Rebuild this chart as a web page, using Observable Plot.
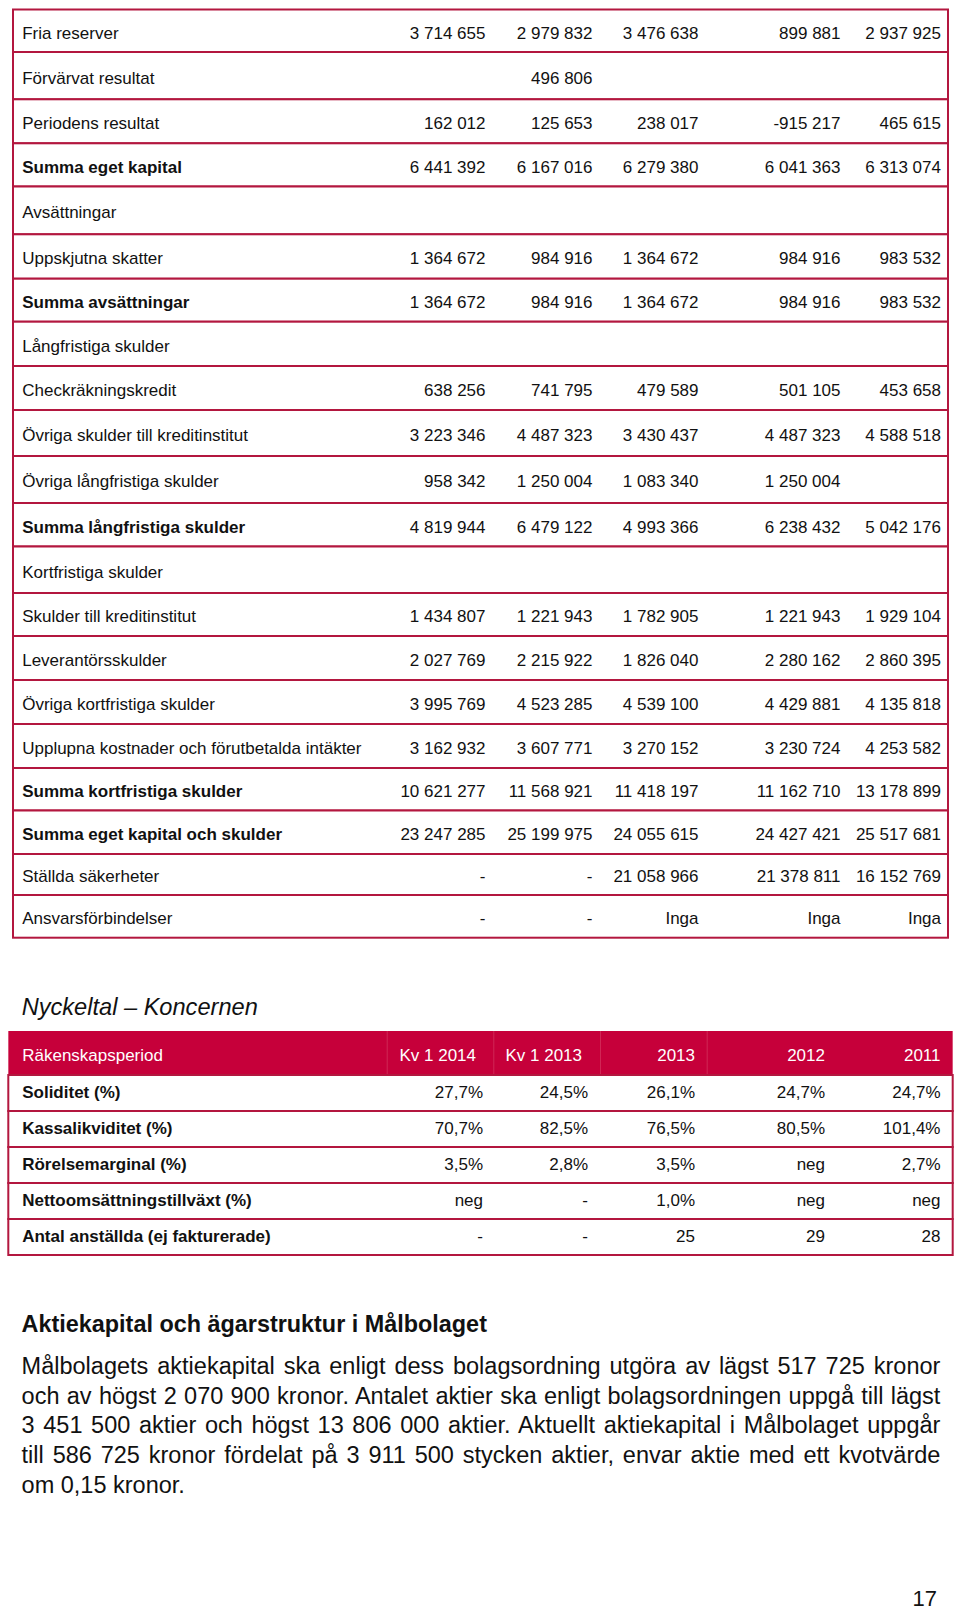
<!DOCTYPE html>
<html><head><meta charset="utf-8">
<script src="https://cdn.jsdelivr.net/npm/d3@7"></script>
<script src="https://cdn.jsdelivr.net/npm/@observablehq/plot@0.6"></script>
<style>
body{margin:0;background:#fff;}
#page{position:relative;width:960px;height:1611px;overflow:hidden;font-family:"Liberation Sans",Arial,Helvetica,sans-serif;color:#111;background:#fff;}
#page svg{position:absolute;left:0;overflow:visible;}
.t{position:absolute;white-space:nowrap;line-height:1;}
.para{position:absolute;left:21.6px;width:918.8px;font-size:23.5px;line-height:29.8px;}
.para div{text-align:justify;text-align-last:justify;}
.para div.last{text-align:left;text-align-last:left;}
</style></head><body><div id="page"></div>
<script>
// ---------- DATA ----------
const balanceLabels = [
  "Fria reserver","Förvärvat resultat","Periodens resultat","Summa eget kapital",
  "Avsättningar","Uppskjutna skatter","Summa avsättningar","Långfristiga skulder",
  "Checkräkningskredit","Övriga skulder till kreditinstitut","Övriga långfristiga skulder",
  "Summa långfristiga skulder","Kortfristiga skulder","Skulder till kreditinstitut",
  "Leverantörsskulder","Övriga kortfristiga skulder","Upplupna kostnader och förutbetalda intäkter",
  "Summa kortfristiga skulder","Summa eget kapital och skulder","Ställda säkerheter","Ansvarsförbindelser"
];
const balQ1_2014 = [3714655,null,162012,6441392,null,1364672,1364672,null,638256,3223346,958342,4819944,null,1434807,2027769,3995769,3162932,10621277,23247285,"-","-"];
const balQ1_2013 = [2979832,496806,125653,6167016,null,984916,984916,null,741795,4487323,1250004,6479122,null,1221943,2215922,4523285,3607771,11568921,25199975,"-","-"];
const bal2013    = [3476638,null,238017,6279380,null,1364672,1364672,null,479589,3430437,1083340,4993366,null,1782905,1826040,4539100,3270152,11418197,24055615,21058966,"Inga"];
const bal2012    = [899881,null,-915217,6041363,null,984916,984916,null,501105,4487323,1250004,6238432,null,1221943,2280162,4429881,3230724,11162710,24427421,21378811,"Inga"];
const bal2011    = [2937925,null,465615,6313074,null,983532,983532,null,453658,4588518,null,5042176,null,1929104,2860395,4135818,4253582,13178899,25517681,16152769,"Inga"];

const keyTitle = "Nyckeltal – Koncernen";
const keyHeaders = ["Räkenskapsperiod","Kv 1 2014","Kv 1 2013","2013","2012","2011"];
const keyLabels = ["Soliditet (%)","Kassalikviditet (%)","Rörelsemarginal (%)","Nettoomsättningstillväxt (%)","Antal anställda (ej fakturerade)"];
const keyPct = [true,true,true,true,false];
const keyQ1_2014 = [27.7,70.7,3.5,"neg","-"];
const keyQ1_2013 = [24.5,82.5,2.8,"-","-"];
const key2013    = [26.1,76.5,3.5,1.0,25];
const key2012    = [24.7,80.5,"neg","neg",29];
const key2011    = [24.7,101.4,2.7,"neg",28];

const sectionHeading = "Aktiekapital och ägarstruktur i Målbolaget";
const paragraphLines = [
  "Målbolagets aktiekapital ska enligt dess bolagsordning utgöra av lägst 517 725 kronor",
  "och av högst 2 070 900 kronor. Antalet aktier ska enligt bolagsordningen uppgå till lägst",
  "3 451 500 aktier och högst 13 806 000 aktier. Aktuellt aktiekapital i Målbolaget uppgår",
  "till 586 725 kronor fördelat på 3 911 500 stycken aktier, envar aktie med ett kvotvärde",
  "om 0,15 kronor."
];
const pageNumber = "17";

// ---------- LAYOUT / STYLE ----------
const FONT = '"Liberation Sans", Arial, Helvetica, sans-serif';
const RED_LINE = "#b3173f";
const RED_FILL = "#c6003a";
const rowHeightsA = [42.5,47.3,44,43.2,47.8,44.4,43,44.3,44,46,47,43.5,46.5,43,44,44,44,42.5,43.5,41,42.7];
const colEdgeA = [485, 592, 698, 840, 940.5];
const colEdgeB = [482.5, 587.5, 694.5, 824.5, 940];
const headerX = [21.7, 399, 505, 694.5, 824.5, 940];
const headerAnchor = ["start","start","start","end","end","end"];
const headerSepX = [386.7, 493.3, 600, 706.7];

const loc = d3.formatLocale({decimal:",", thousands:" ", grouping:[3], currency:["",""], minus:"-"});
const fmtInt = loc.format(",d");
const fmtPct = v => loc.format(".1f")(v) + "%";

const page = document.getElementById("page");
const place = (node, top) => { node.style.top = top + "px"; page.appendChild(node); };

// ---------- TABLE A: balance sheet ----------
const balSeries = [balQ1_2014, balQ1_2013, bal2013, bal2012, bal2011];
let acc = 0;
const rowsA = balanceLabels.map((label, i) => {
  const y1 = acc; acc += rowHeightsA[i];
  return {i, label, bold: label.startsWith("Summa"), y1, y2: acc, ym: (y1 + acc) / 2};
});
const totalA = acc;
const cellsA = [];
balSeries.forEach((s, c) => s.forEach((v, i) => {
  if (v !== null) cellsA.push({i, c, ym: rowsA[i].ym, text: typeof v === "number" ? fmtInt(v) : v});
}));

const tableA = Plot.plot({
  width: 960, height: 946, marginLeft: 0, marginRight: 0, marginTop: 9.5, marginBottom: 8,
  style: {fontFamily: FONT, background: "transparent", color: "#111"},
  x: {type: "linear", domain: [0, 960], range: [0, 960], axis: null},
  y: {type: "linear", domain: [0, totalA], range: [9.5, 937.7], axis: null},
  marks: [
    Plot.rect(rowsA, {x1: 13, x2: 948, y1: "y1", y2: "y2", fill: "white", stroke: RED_LINE, strokeWidth: 2}),
    Plot.text(rowsA, {filter: d => !d.bold, x: 21.7, y: "ym", text: "label", textAnchor: "start", fontSize: 17, dy: 2, fill: "#111"}),
    Plot.text(rowsA, {filter: d => d.bold, x: 21.7, y: "ym", text: "label", textAnchor: "start", fontSize: 17, fontWeight: "bold", dy: 2, fill: "#111"}),
    Plot.text(cellsA, {x: d => colEdgeA[d.c], y: "ym", text: "text", textAnchor: "end", fontSize: 17, dy: 2, fill: "#111"})
  ]
});
place(tableA, 0);

// ---------- Title ----------
const title = document.createElement("div");
title.className = "t";
title.textContent = keyTitle;
Object.assign(title.style, {left: "21.7px", fontSize: "23.6px", fontStyle: "italic"});
place(title, 996);

// ---------- TABLE B header ----------
const headerCells = keyHeaders.map((h, k) => ({k, h, anchor: headerAnchor[k]}));
const tableBHead = Plot.plot({
  width: 960, height: 44.3, margin: 0,
  style: {fontFamily: FONT, background: "transparent"},
  x: {type: "linear", domain: [0, 960], range: [0, 960], axis: null},
  y: {type: "band", domain: ["head"], padding: 0, axis: null},
  marks: [
    Plot.barX(["head"], {x1: 8.3, x2: 952.7, y: d => d, fill: RED_FILL}),
    Plot.ruleX(headerSepX, {x: d => d, stroke: "#e5708c", strokeOpacity: 0.35, strokeWidth: 1}),
    Plot.text(headerCells, {filter: d => d.anchor === "start", x: d => headerX[d.k], y: () => "head", text: "h", textAnchor: "start", fontSize: 17, dy: 2, fill: "white"}),
    Plot.text(headerCells, {filter: d => d.anchor === "end", x: d => headerX[d.k], y: () => "head", text: "h", textAnchor: "end", fontSize: 17, dy: 2, fill: "white"})
  ]
});
place(tableBHead, 1030.7);

// ---------- TABLE B body ----------
const keySeries = [keyQ1_2014, keyQ1_2013, key2013, key2012, key2011];
const rowsB = keyLabels.map((label, i) => ({i, label}));
const cellsB = [];
keySeries.forEach((s, c) => s.forEach((v, i) => {
  cellsB.push({i, c, text: typeof v === "number" ? (keyPct[i] ? fmtPct(v) : fmtInt(v)) : v});
}));
const tableB = Plot.plot({
  width: 960, height: 184, marginLeft: 0, marginRight: 0, marginTop: 2, marginBottom: 2,
  style: {fontFamily: FONT, background: "transparent"},
  x: {type: "linear", domain: [0, 960], range: [0, 960], axis: null},
  y: {type: "band", domain: d3.range(keyLabels.length), padding: 0, axis: null},
  marks: [
    Plot.barX(rowsB, {x1: 8.3, x2: 952.7, y: "i", fill: "white", stroke: RED_LINE, strokeWidth: 2}),
    Plot.text(rowsB, {x: 21.7, y: "i", text: "label", textAnchor: "start", fontSize: 17, fontWeight: "bold", dy: -0.5, fill: "#111"}),
    Plot.text(cellsB, {x: d => colEdgeB[d.c], y: "i", text: "text", textAnchor: "end", fontSize: 17, dy: -0.5, fill: "#111"})
  ]
});
place(tableB, 1073);

// ---------- Section heading + paragraph ----------
const h = document.createElement("div");
h.className = "t";
h.textContent = sectionHeading;
Object.assign(h.style, {left: "21.6px", fontSize: "23.4px", fontWeight: "bold"});
place(h, 1313.3);

const para = document.createElement("div");
para.className = "para";
paragraphLines.forEach((line, k) => {
  const d = document.createElement("div");
  d.textContent = line;
  if (k === paragraphLines.length - 1) d.className = "last";
  para.appendChild(d);
});
place(para, 1351.8);

const pn = document.createElement("div");
pn.className = "t";
pn.textContent = pageNumber;
Object.assign(pn.style, {right: "23px", fontSize: "22px", lineHeight: "20px"});
place(pn, 1589);
</script>
</body></html>
